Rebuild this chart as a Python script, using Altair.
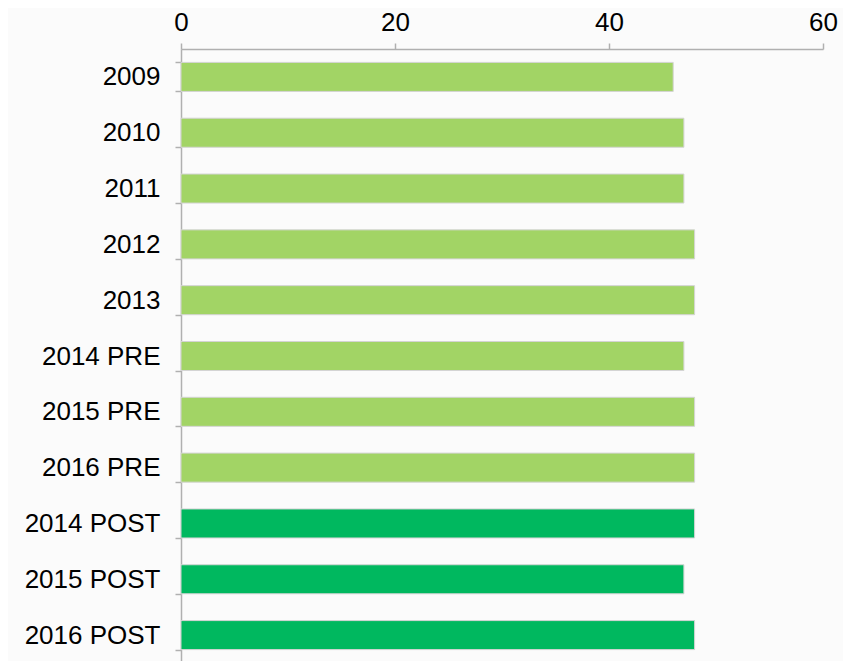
import altair as alt
import pandas as pd

categories = ["2009", "2010", "2011", "2012", "2013", "2014 PRE", "2015 PRE",
              "2016 PRE", "2014 POST", "2015 POST", "2016 POST"]
values = [46, 47, 47, 48, 48, 47, 48, 48, 48, 47, 48]
groups = ["light"] * 8 + ["dark"] * 3

df = pd.DataFrame({"cat": categories, "val": values, "grp": groups})

chart = alt.Chart(df).mark_bar(stroke="#d4d4d4", strokeWidth=1).encode(
    y=alt.Y("cat:N", sort=categories, title=None,
            scale=alt.Scale(paddingInner=0.48, paddingOuter=0.24),
            axis=alt.Axis(labelFontSize=26, labelFont="Liberation Sans", labelColor="#000",
                          labelPadding=15, tickSize=6, tickColor="#b0b0b0",
                          domainColor="#b0b0b0", domainWidth=1.5, tickWidth=1.5,
                          tickBand="extent", grid=False, labelLimit=300)),
    x=alt.X("val:Q", title=None,
            scale=alt.Scale(domain=[0, 60], nice=False),
            axis=alt.Axis(orient="top", values=[0, 20, 40, 60], labelFontSize=26,
                          labelFont="Liberation Sans", labelColor="#000", labelPadding=8,
                          labelFlush=False,
                          tickSize=6, tickColor="#b0b0b0", domainColor="#b0b0b0",
                          domainWidth=1.5, tickWidth=1.5, grid=False)),
    color=alt.Color("grp:N", scale=alt.Scale(domain=["light", "dark"],
                                             range=["#a2d465", "#00b85f"]), legend=None),
).properties(
    width=642, height=614,
    autosize=alt.AutoSizeParams(type="none"),
    padding={"left": 173, "top": 41, "right": 20, "bottom": 0},
    background="#fbfbfb",
).configure_view(stroke=None)

chart.save("out.html", embed_options={"renderer": "svg", "actions": False})
